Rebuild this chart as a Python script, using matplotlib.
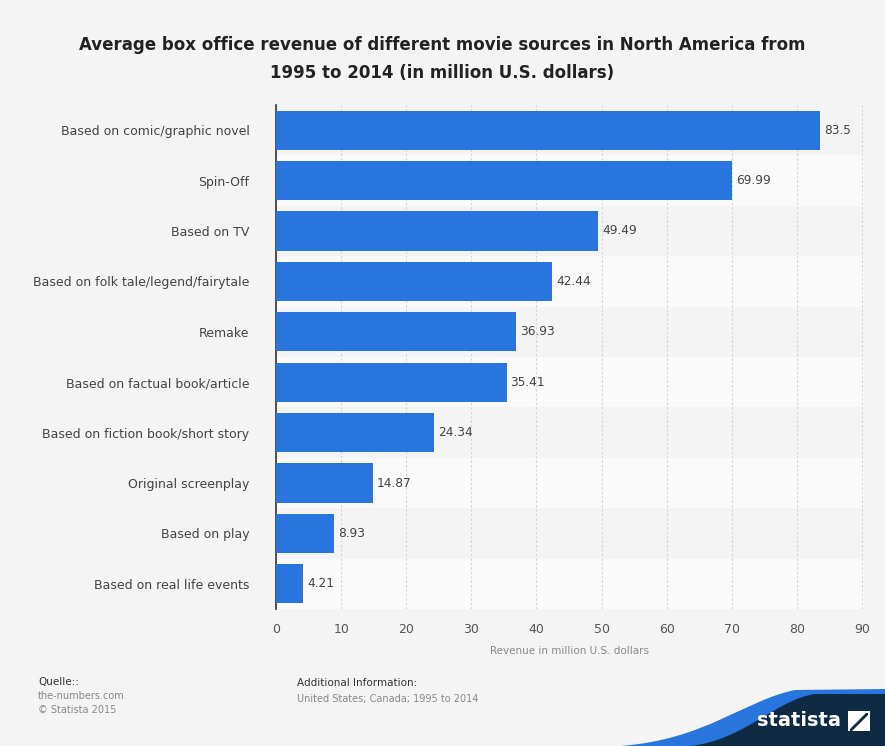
import matplotlib
matplotlib.use("Agg")
import matplotlib.pyplot as plt
from matplotlib.path import Path
from matplotlib.patches import PathPatch, Polygon

categories = [
    "Based on comic/graphic novel",
    "Spin-Off",
    "Based on TV",
    "Based on folk tale/legend/fairytale",
    "Remake",
    "Based on factual book/article",
    "Based on fiction book/short story",
    "Original screenplay",
    "Based on play",
    "Based on real life events",
]
values = [83.5, 69.99, 49.49, 42.44, 36.93, 35.41, 24.34, 14.87, 8.93, 4.21]
value_labels = ["83.5", "69.99", "49.49", "42.44", "36.93", "35.41", "24.34", "14.87", "8.93", "4.21"]
xticks = [0, 10, 20, 30, 40, 50, 60, 70, 80, 90]

W, H = 885, 746
bg = "#f4f4f4"
bar_color = "#2876dd"

fig = plt.figure(figsize=(W / 100, H / 100), dpi=100, facecolor=bg)

def fx(px):
    return px / W

def fy(py):
    return 1 - py / H

ax = fig.add_axes([fx(276), fy(609), fx(864) - fx(276), fy(105) - fy(609)])
ax.set_facecolor(bg)

n = len(categories)
ypos = list(range(n))
ax.set_ylim(n - 0.5, -0.5)
ax.set_xlim(0, 90.3)

# alternating row bands
for i in ypos:
    if i % 2 == 1:
        ax.axhspan(i - 0.5, i + 0.5, color="#fafafa", zorder=0, lw=0)

ax.barh(ypos, values, height=0.78, color=bar_color, zorder=3)
for i, (v, lab) in enumerate(zip(values, value_labels)):
    ax.text(v + 0.6, i, lab, va="center", ha="left", fontsize=8.7, color="#444444", zorder=4)

ax.set_xticks(xticks)
ax.set_xticklabels([str(t) for t in xticks], fontsize=9, color="#555555")
ax.set_yticks(ypos)
ax.set_yticklabels(categories, fontsize=9, color="#444444")
ax.tick_params(axis="both", length=0)
ax.tick_params(axis="y", pad=19)
ax.tick_params(axis="x", pad=10)
ax.xaxis.grid(True, linestyle=(0, (2, 2)), color="#d4d4d4", lw=0.8, zorder=1)
ax.set_axisbelow(True)
for s in ["top", "right", "bottom"]:
    ax.spines[s].set_visible(False)
ax.spines["left"].set_color("#333333")
ax.spines["left"].set_linewidth(1.2)
ax.set_xlabel("Revenue in million U.S. dollars", fontsize=7.5, color="#888888", labelpad=7)

fig.text(0.5, fy(45), "Average box office revenue of different movie sources in North America from",
         ha="center", va="center", fontsize=12, fontweight="bold", color="#222222")
fig.text(0.5, fy(73), "1995 to 2014 (in million U.S. dollars)",
         ha="center", va="center", fontsize=12, fontweight="bold", color="#222222")

# footer
fig.text(fx(38), fy(682), "Quelle::", fontsize=7.5, color="#333333", va="center")
fig.text(fx(38), fy(696), "the-numbers.com", fontsize=7, color="#888888", va="center")
fig.text(fx(38), fy(710), "\u00a9 Statista 2015", fontsize=7, color="#888888", va="center")
fig.text(fx(297), fy(683), "Additional Information:", fontsize=7.5, color="#333333", va="center")
fig.text(fx(297), fy(699), "United States; Canada; 1995 to 2014", fontsize=7, color="#888888", va="center")

# statista logo shape
def shape(pts, codes, color):
    p = Path([(fx(x), fy(y)) for x, y in pts], codes)
    fig.patches.append(PathPatch(p, facecolor=color, edgecolor="none", transform=fig.transFigure))

C = Path.CURVE4
shape([(620, 746), (705, 740), (745, 700), (795, 690), (885, 689), (885, 746), (620, 746)],
      [Path.MOVETO, C, C, C, Path.LINETO, Path.LINETO, Path.CLOSEPOLY], "#2876dd")
shape([(690, 746), (745, 740), (775, 700), (815, 694), (885, 694), (885, 746), (690, 746)],
      [Path.MOVETO, C, C, C, Path.LINETO, Path.LINETO, Path.CLOSEPOLY], "#0f2a43")
fig.text(fx(799), fy(721), "statista", fontsize=14, fontweight="bold", color="white",
         ha="center", va="center")
fig.patches.append(Polygon([(fx(848), fy(731)), (fx(870), fy(731)), (fx(870), fy(711)), (fx(848), fy(711))],
                           closed=True, facecolor="white", edgecolor="none", transform=fig.transFigure))
fig.patches.append(Polygon([(fx(850), fy(729)), (fx(866), fy(713)), (fx(868), fy(713)), (fx(868), fy(715)), (fx(852), fy(731)), (fx(850), fy(731))],
                           closed=True, facecolor="#0f2a43", edgecolor="none", transform=fig.transFigure))

fig.savefig("out.png", dpi=100, facecolor=bg)
